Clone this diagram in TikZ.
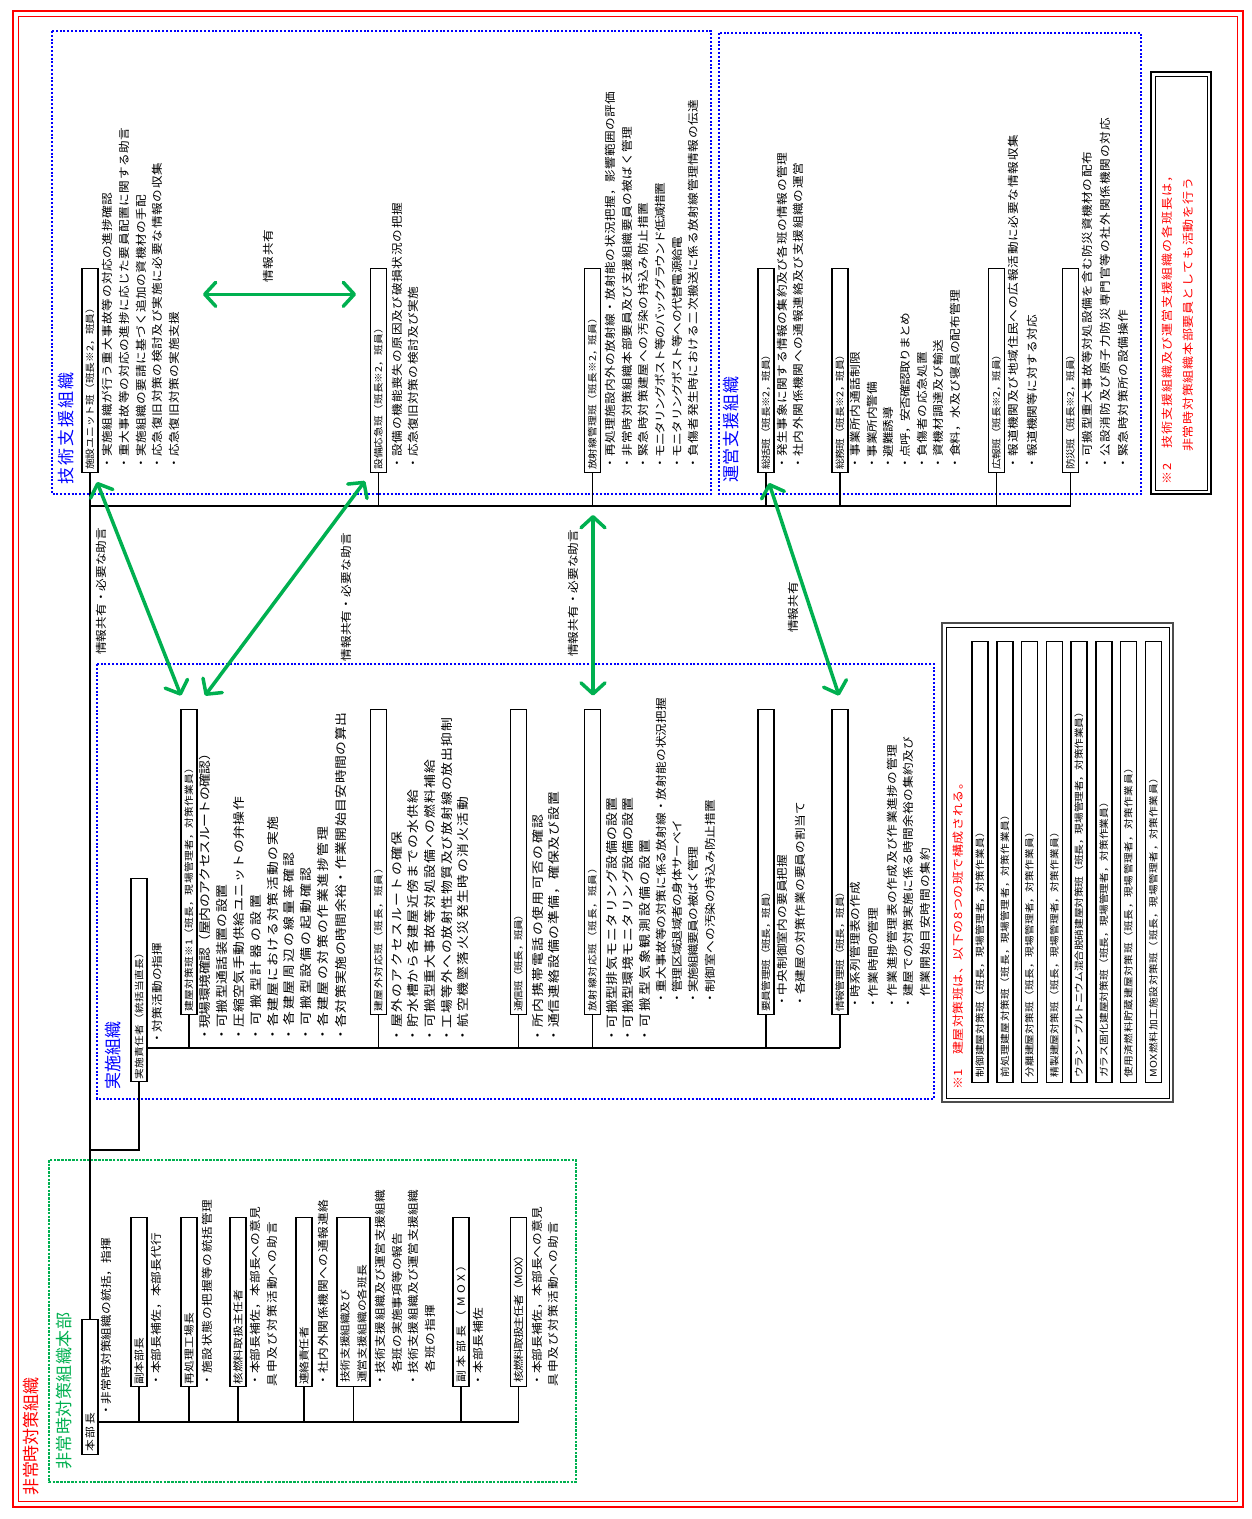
\documentclass[tikz,border=0pt]{standalone}
\usepackage{fontspec}
\usetikzlibrary{arrows.meta,calc}
\newfontfamily\jpf[FakeStretch=1.15]{Noto Sans CJK JP}
\newfontfamily\jpt{Noto Sans CJK JP}
\definecolor{myred}{RGB}{255,0,0}
\definecolor{mygreen}{RGB}{0,176,80}
\definecolor{myblue}{RGB}{0,0,255}
\def\jspread#1#2\jend{#1\ifx\jend#2\jend\else\hskip0pt plus 1fil minus 1pt\relax\jspread#2\jend\fi}
\newcommand\jtxt[6]{\node[#1] (#2) at (#3,#4) {\hbox to \dimexpr #4pt-#5pt\relax{\jspread#6\jend}};}
\newcommand\jbox[4]{\node[bx, minimum width={#4-#3}] (#1) at (#2,#4) {};}
\tikzset{
 it/.style={rotate=90, anchor=west, inner sep=0pt, font={\jpf\fontsize{11}{13}\selectfont}},
 ib/.style={it, font={\jpf\fontsize{12}{14}\selectfont}},
 lb/.style={it, font={\jpf\fontsize{9.3}{11}\selectfont}},
 lbh/.style={it, font={\jpf\fontsize{10.2}{12}\selectfont}},
 al/.style={it, font={\jpf\fontsize{11}{13}\selectfont}},
 rn/.style={it, text=myred, font={\jpf\fontsize{11.3}{13}\selectfont}},
 ttr/.style={it, text=myred, font={\jpt\fontsize{17}{20}\selectfont}},
 ttg/.style={ttr, text=mygreen},
 ttb/.style={ttr, text=myblue},
 bx/.style={rotate=90, anchor=west, draw, line width=1.4pt, inner sep=0pt, minimum height=16pt, fill=white},
 ln/.style={line width=1.2pt},
 bdot/.style={myblue, line width=2.2pt, dash pattern=on 2pt off 1.8pt},
 gdash/.style={mygreen, line width=1.5pt, dash pattern=on 2.5pt off 1.2pt},
 garrow/.style={mygreen, line width=3.5pt, line cap=round, >={Straight Barb[length=11pt,width=24pt,round]}, <->},
}
\begin{document}
\begin{tikzpicture}[x=1pt,y=-1pt]
\useasboundingbox (0,0) rectangle (1252,1519);
\fill[white] (0,0) rectangle (1252,1519);
% outer red frame
\draw[myred, line width=2.5pt] (13,11) rectangle (1243,1507);
\draw[myred, line width=1pt] (18.5,16.5) rectangle (1237.5,1501.5);
% group frames
\draw[gdash] (49,1160) rectangle (576,1482);
\draw[bdot] (52,31) rectangle (711,494);
\draw[bdot] (719,33) rectangle (1141,494);
\draw[bdot] (97,664) rectangle (934,1099);
% note frames
\draw[line width=2pt] (1151,72) rectangle (1211,494);
\draw[line width=0.8pt] (1155,76) rectangle (1207,490);
\draw[line width=2pt, black!70] (942,623) rectangle (1173,1102);
\draw[line width=0.8pt] (946,627) rectangle (1169,1098);

% titles
\jtxt{ttr}{t1}{31}{1496}{1378}{非常時対策組織}
\jtxt{ttg}{t2}{64}{1470}{1313}{非常時対策組織本部}
\jtxt{ttb}{t3}{66}{485}{373}{技術支援組織}
\jtxt{ttb}{t4}{731}{483}{377}{運営支援組織}
\jtxt{ttb}{t5}{113}{1090}{1022}{実施組織}

% ---------- boxes ----------
% headquarters
\jbox{honbu}{90}{1320}{1455}
\jbox{fuku}{139}{1218}{1387}
\jbox{saisho}{189}{1218}{1387}
\jbox{kakunen}{238}{1218}{1387}
\jbox{renraku}{304}{1218}{1387}
\node[bx, minimum width={1387-1218}, minimum height=33pt] (kakuhan) at (353.5,1387) {};
\jbox{fukumox}{461}{1218}{1387}
\jbox{kakumox}{518.5}{1218}{1387}
% implementation
\jbox{jisseki}{139}{879}{1082}
\jbox{tate}{189}{710}{1015}
\jbox{tategai}{378.5}{710}{1015}
\jbox{tsushin}{518.5}{710}{1015}
\jbox{hosha}{592.5}{710}{1015}
\jbox{yoin}{766}{710}{1015}
\jbox{joho}{840}{710}{1015}
% technical support
\jbox{shisetsu}{90}{269}{473}
\jbox{setsubi}{378.5}{269}{473}
\jbox{hokan}{592.5}{269}{473}
% operation support
\jbox{sokatsu}{766}{269}{473}
\jbox{somu}{840}{269}{473}
\jbox{koho}{996.5}{269}{473}
\jbox{bosai}{1070.5}{269}{473}
% note 1 list
\jbox{m1}{980}{642}{1083}
\jbox{m2}{1005}{642}{1083}
\jbox{m3}{1029.5}{642}{1083}
\jbox{m4}{1054.5}{642}{1083}
\jbox{m5}{1079}{642}{1083}
\jbox{m6}{1104}{642}{1083}
\jbox{m7}{1128.5}{642}{1083}
\jbox{m8}{1153.5}{642}{1083}

% ---------- connectors ----------
\draw[ln] (honbu.east) -- (shisetsu.west);
\coordinate (jn) at (90,1150);
\draw[ln] (jn) -| (jisseki.west);
\coordinate (busT) at (90,506);
\draw[ln] (busT) -- (bosai.west |- busT);
\foreach \n in {setsubi,hokan,sokatsu,somu,koho,bosai} \draw[ln] (\n.west) -- (\n.west |- busT);
\coordinate (busM) at (147,1048);
\draw[ln] (busM) -- (joho.west |- busM);
\foreach \n in {tate,tategai,tsushin,hosha,yoin,joho} \draw[ln] (\n.west) -- (\n.west |- busM);
\coordinate (busL) at (98,1422);
\draw[ln] (busL) -- (kakumox.west |- busL);
\foreach \n in {fuku,saisho,kakunen,renraku,kakuhan,fukumox,kakumox} \draw[ln] (\n.west) -- (\n.west |- busL);

% ---------- box labels ----------
\jtxt{lbh}{Lhonbu}{90}{1452}{1413}{本部長}
\jtxt{lbh}{Lfuku}{139}{1385}{1338}{副本部長}
\jtxt{lbh}{Lsaisho}{189}{1385}{1313}{再処理工場長}
\jtxt{lbh}{Lkakunen}{238}{1385}{1290}{核燃料取扱主任者}
\jtxt{lbh}{Lrenraku}{304}{1385}{1327}{連絡責任者}
\jtxt{lbh}{Lkakuhana}{345}{1383}{1290}{技術支援組織及び}
\jtxt{lbh}{Lkakuhanb}{362}{1383}{1265}{運営支援組織の各班長}
\jtxt{lbh}{Lfukumox}{461}{1383}{1260}{副本部長（MOX）}
\jtxt{lbh}{Lkakumox}{518.5}{1383}{1250}{核燃料取扱主任者（MOX）}

\jtxt{lb}{Ljisseki}{139}{1080}{948}{実施責任者（統括当直長）}
\jtxt{lb}{Ltate}{189}{1012}{763}{建屋対策班※1（班長，現場管理者，対策作業員）}
\jtxt{lb}{Ltategai}{378.5}{1012}{863}{建屋外対応班（班長，班員）}
\jtxt{lb}{Ltsushin}{518.5}{1012}{910}{通信班（班長，班員）}
\jtxt{lb}{Lhosha}{592.5}{1012}{863}{放射線対応班（班長，班員）}
\jtxt{lb}{Lyoin}{766}{1012}{887}{要員管理班（班長，班員）}
\jtxt{lb}{Ljoho}{840}{1012}{887}{情報管理班（班長，班員）}

\jtxt{lb}{Lshisetsu}{90}{470}{303}{施設ユニット班（班長※2，班員）}
\jtxt{lb}{Lsetsubi}{378.5}{470}{323}{設備応急班（班長※2，班員）}
\jtxt{lb}{Lhokan}{592.5}{470}{313}{放射線管理班（班長※2，班員）}
\jtxt{lb}{Lsokatsu}{766}{470}{350}{総括班（班長※2，班員）}
\jtxt{lb}{Lsomu}{840}{470}{350}{総務班（班長※2，班員）}
\jtxt{lb}{Lkoho}{996.5}{470}{350}{広報班（班長※2，班員）}
\jtxt{lb}{Lbosai}{1070.5}{470}{350}{防災班（班長※2，班員）}

\jtxt{lb}{Lm1}{980}{1078}{827}{制御建屋対策班（班長，現場管理者，対策作業員）}
\jtxt{lb}{Lm2}{1005}{1078}{810}{前処理建屋対策班（班長，現場管理者，対策作業員）}
\jtxt{lb}{Lm3}{1029.5}{1078}{827}{分離建屋対策班（班長，現場管理者，対策作業員）}
\jtxt{lb}{Lm4}{1054.5}{1078}{827}{精製建屋対策班（班長，現場管理者，対策作業員）}
\jtxt{lb}{Lm5}{1079}{1078}{707}{ウラン・プルトニウム混合脱硝建屋対策班（班長，現場管理者，対策作業員）}
\jtxt{lb}{Lm6}{1104}{1078}{797}{ガラス固化建屋対策班（班長，現場管理者，対策作業員）}
\jtxt{lb}{Lm7}{1128.5}{1078}{763}{使用済燃料貯蔵建屋対策班（班長，現場管理者，対策作業員）}
\jtxt{lb}{Lm8}{1153.5}{1078}{773}{MOX燃料加工施設対策班（班長，現場管理者，対策作業員）}

% ---------- items: headquarters ----------
\jtxt{it}{i01}{106}{1417}{1238}{・非常時対策組織の統括，指揮}
\jtxt{it}{i02}{156}{1387}{1233}{・本部長補佐，本部長代行}
\jtxt{it}{i03}{207}{1387}{1200}{・施設状態の把握等の統括管理}
\jtxt{it}{i04}{255}{1387}{1207}{・本部長補佐，本部長への意見}
\jtxt{it}{i05}{272}{1387}{1222}{具申及び対策活動への助言}
\jtxt{it}{i06}{323}{1387}{1200}{・社内外関係機関への通報連絡}
\jtxt{it}{i07}{380}{1387}{1190}{・技術支援組織及び運営支援組織}
\jtxt{it}{i08}{397}{1373}{1233}{各班の実施事項等の報告}
\jtxt{it}{i09}{413}{1387}{1190}{・技術支援組織及び運営支援組織}
\jtxt{it}{i10}{430}{1373}{1305}{各班の指揮}
\jtxt{it}{i11}{478}{1387}{1308}{・本部長補佐}
\jtxt{it}{i12}{537}{1387}{1207}{・本部長補佐，本部長への意見}
\jtxt{it}{i13}{553}{1387}{1222}{具申及び対策活動への助言}

% ---------- items: implementation ----------
\jtxt{it}{j00}{157}{1045}{943}{・対策活動の指揮}
\jtxt{ib}{j11}{205}{1042}{747}{・現場環境確認（屋内のアクセスルートの確認）}
\jtxt{ib}{j12}{222}{1042}{885}{・可搬型通話装置の設置}
\jtxt{ib}{j13}{239}{1042}{797}{・圧縮空気手動供給ユニットの弁操作}
\jtxt{ib}{j14}{256}{1042}{895}{・可搬型計器の設置}
\jtxt{ib}{j15}{273}{1042}{817}{・各建屋における対策活動の実施}
\jtxt{ib}{j16}{289}{1042}{853}{・各建屋周辺の線量率確認}
\jtxt{ib}{j17}{306}{1042}{868}{・可搬型設備の起動確認}
\jtxt{ib}{j18}{323}{1042}{827}{・各建屋の対策の作業進捗管理}
\jtxt{ib}{j19}{341}{1042}{713}{・各対策実施の時間余裕・作業開始目安時間の算出}
\jtxt{ib}{j21}{397}{1043}{832}{・屋外のアクセスルートの確保}
\jtxt{ib}{j22}{413}{1043}{790}{・貯水槽から各建屋近傍までの水供給}
\jtxt{ib}{j23}{430}{1043}{760}{・可搬型重大事故等対処設備への燃料補給}
\jtxt{ib}{j24}{447}{1043}{718}{・工場等外への放射性物質及び放射線の放出抑制}
\jtxt{ib}{j25}{463}{1043}{797}{・航空機墜落火災発生時の消火活動}
\jtxt{ib}{j31}{538}{1043}{815}{・所内携帯電話の使用可否の確認}
\jtxt{ib}{j32}{554}{1043}{792}{・通信連絡設備の準備，確保及び設置}
\jtxt{ib}{j41}{612}{1043}{798}{・可搬型排気モニタリング設備の設置}
\jtxt{ib}{j42}{628}{1043}{798}{・可搬型環境モニタリング設備の設置}
\jtxt{ib}{j43}{645}{1043}{840}{・可搬型気象観測設備の設置}
\jtxt{it}{j44}{661}{1005}{698}{・重大事故等の対策に係る放射線・放射能の状況把握}
\jtxt{it}{j45}{677}{1005}{820}{・管理区域退域者の身体サーベイ}
\jtxt{it}{j46}{693}{1005}{847}{・実施組織要員の被ばく管理}
\jtxt{it}{j47}{710}{1005}{800}{・制御室への汚染の持込み防止措置}
\jtxt{it}{j51}{782}{1008}{855}{・中央制御室内の要員把握}
\jtxt{it}{j52}{800}{1008}{802}{・各建屋の対策作業の要員の割当て}
\jtxt{it}{j61}{855}{1010}{882}{・時系列管理表の作成}
\jtxt{it}{j62}{873}{1010}{908}{・作業時間の管理}
\jtxt{it}{j63}{892}{1010}{745}{・作業進捗管理表の作成及び作業進捗の管理}
\jtxt{it}{j64}{908}{1010}{737}{・建屋での対策実施に係る時間余裕の集約及び}
\jtxt{it}{j65}{925}{997}{848}{作業開始目安時間の集約}

% ---------- items: technical support ----------
\jtxt{it}{k11}{107}{470}{193}{・実施組織が行う重大事故等の対応の進捗確認}
\jtxt{it}{k12}{124}{470}{128}{・重大事故等の対応の進捗に応じた要員配置に関する助言}
\jtxt{it}{k13}{141}{470}{195}{・実施組織の要請に基づく追加の資機材の手配}
\jtxt{it}{k14}{157}{470}{163}{・応急復旧対策の検討及び実施に必要な情報の収集}
\jtxt{it}{k15}{174}{470}{312}{・応急復旧対策の実施支援}
\jtxt{it}{k21}{397}{470}{203}{・設備の機能喪失の原因及び破損状況の把握}
\jtxt{it}{k22}{413}{470}{287}{・応急復旧対策の検討及び実施}
\jtxt{it}{k31}{610}{470}{92}{・再処理施設内外の放射線・放射能の状況把握，影響範囲の評価}
\jtxt{it}{k32}{627}{470}{127}{・非常時対策組織本部要員及び支援組織要員の被ばく管理}
\jtxt{it}{k33}{643}{470}{203}{・緊急時対策建屋への汚染の持込み防止措置}
\jtxt{it}{k34}{660}{470}{183}{・モニタリングポスト等のバックグラウンド低減措置}
\jtxt{it}{k35}{677}{470}{237}{・モニタリングポスト等への代替電源給電}
\jtxt{it}{k36}{693}{470}{100}{・負傷者発生時における二次搬送に係る放射線管理情報の伝達}

% ---------- items: operation support ----------
\jtxt{it}{u11}{782}{470}{153}{・発生事象に関する情報の集約及び各班の情報の管理}
\jtxt{it}{u12}{798}{470}{163}{・社内外関係機関への通報連絡及び支援組織の運営}
\jtxt{it}{u21}{855}{470}{352}{・事業所内通話制限}
\jtxt{it}{u22}{872}{470}{382}{・事業所内警備}
\jtxt{it}{u23}{888}{470}{407}{・避難誘導}
\jtxt{it}{u24}{905}{470}{313}{・点呼，安否確認取りまとめ}
\jtxt{it}{u25}{922}{470}{352}{・負傷者の応急処置}
\jtxt{it}{u26}{938}{470}{340}{・資機材調達及び輸送}
\jtxt{it}{u27}{955}{470}{290}{・食料，水及び寝具の配布管理}
\jtxt{it}{u31}{1013}{470}{135}{・報道機関及び地域住民への広報活動に必要な情報収集}
\jtxt{it}{u32}{1032}{470}{315}{・報道機関等に対する対応}
\jtxt{it}{u41}{1087}{470}{152}{・可搬型重大事故等対処設備を含む防災資機材の配布}
\jtxt{it}{u42}{1105}{470}{118}{・公設消防及び原子力防災専門官等の社外関係機関の対応}
\jtxt{it}{u43}{1123}{470}{310}{・緊急時対策所の設備操作}

% ---------- notes ----------
\jtxt{rn}{n1}{958}{1090}{777}{※1　建屋対策班は、以下の8つの班で構成される。}
\jtxt{rn}{n2a}{1167}{485}{170}{※2　技術支援組織及び運営支援組織の各班長は，}
\jtxt{rn}{n2b}{1188}{452}{178}{非常時対策組織本部要員としても活動を行う}

% ---------- arrows ----------
\draw[garrow] ($(shisetsu.west)+(7,9)$) -- ($(tate.east)+(-8,-13)$);
\draw[garrow] ($(setsubi.west)+(-13.5,8)$) -- ($(tate.east)+(16,-13)$);
\draw[garrow] ($(hokan.west)+(0.5,42)$) -- ($(hosha.east)+(0.5,-13)$);
\draw[garrow] ($(sokatsu.west)+(3,10)$) -- ($(joho.east)+(-1,-13)$);
\draw[garrow] ($(shisetsu.center)+(113,-76)$) -- ($(setsubi.center)+(-22.5,-76)$);
\jtxt{al}{a1}{268}{283}{230}{情報共有}
\jtxt{al}{a2}{101}{655}{528}{情報共有・必要な助言}
\jtxt{al}{a3}{346}{662}{533}{情報共有・必要な助言}
\jtxt{al}{a4}{573}{657}{530}{情報共有・必要な助言}
\jtxt{al}{a5}{793}{633}{582}{情報共有}
\end{tikzpicture}
\end{document}
